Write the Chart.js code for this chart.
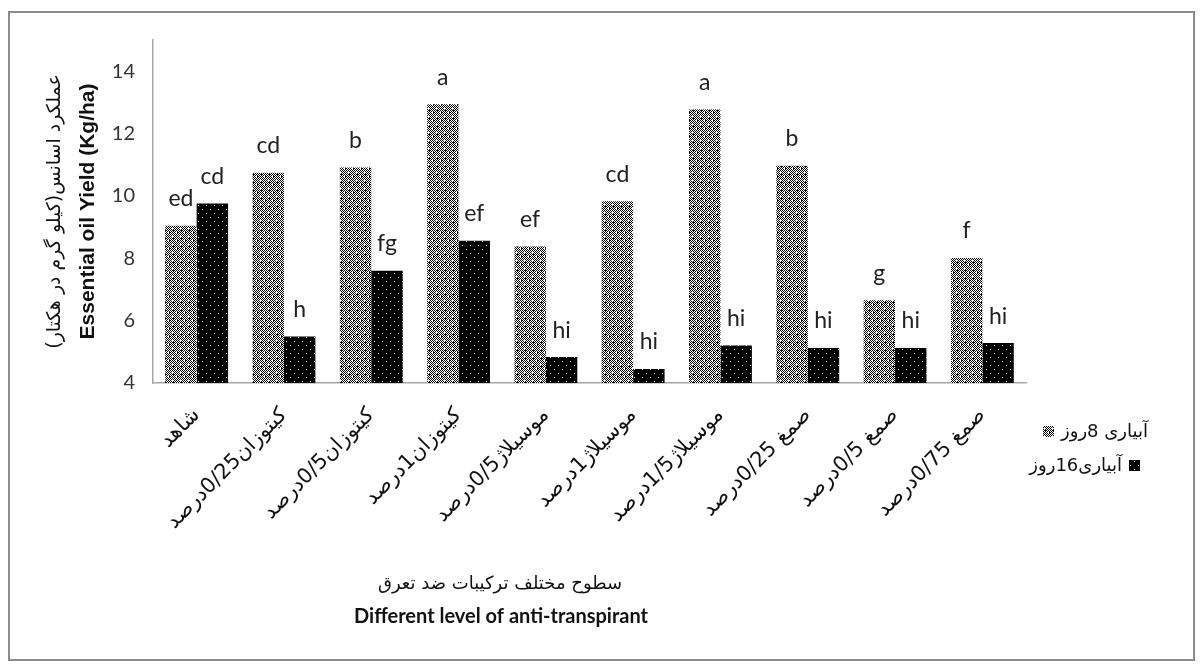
<!DOCTYPE html>
<html>
<head>
<meta charset="utf-8">
<script src="https://cdn.jsdelivr.net/npm/chart.js@4/dist/chart.umd.min.js"></script>
<style>
html, body { margin: 0; padding: 0; background: #fff; }
#wrap { position: relative; width: 1203px; height: 672px; }
#frame { position: absolute; left: 8px; top: 11px; width: 1183px; height: 646px; border: 2px solid #8c8c8c; pointer-events: none; }
canvas { position: absolute; left: 0; top: 0; }
</style>
</head>
<body>
<div id="wrap">
    <canvas id="chart" width="1203" height="672"></canvas>
    <div id="frame"></div>
</div>
<script>
const categories = [
    'شاهد',
    'کیتوزان0/25درصد',
    'کیتوزان0/5درصد',
    'کیتوزان1درصد',
    'موسیلاژ0/5درصد',
    'موسیلاژ1درصد',
    'موسیلاژ1/5درصد',
    'صمغ 0/25درصد',
    'صمغ 0/5درصد',
    'صمغ 0/75درصد'
];
const seriesNames = ['آبیاری 8روز', 'آبیاری16روز'];
const irrigation8 = [9.04, 10.74, 10.91, 12.94, 8.38, 9.83, 12.77, 10.97, 6.65, 8.01];
const irrigation16 = [9.76, 5.49, 7.6, 8.56, 4.83, 4.45, 5.2, 5.12, 5.12, 5.28];
const letters8 = ['ed', 'cd', 'b', 'a', 'ef', 'cd', 'a', 'b', 'g', 'f'];
const letters16 = ['cd', 'h', 'fg', 'ef', 'hi', 'hi', 'hi', 'hi', 'hi', 'hi'];
const yTicks = [4, 6, 8, 10, 12, 14];
const yTitleFa = 'عملکرد اسانس(کیلو گرم در هکتار)';
const yTitleEn = 'Essential oil Yield (Kg/ha)';
const xTitleFa = 'سطوح مختلف ترکیبات ضد تعرق';
const xTitleEn = 'Different level of anti-transpirant';

// little bitmap fills like the excel pattern fills
function makePattern(kind) {
    const c = document.createElement('canvas');
    c.width = 8;
    c.height = 8;
    const g = c.getContext('2d');
    if (kind === 'light') {
        g.fillStyle = '#fff';
        g.fillRect(0, 0, 8, 8);
        g.fillStyle = '#000';
        for (let x = 0; x < 8; x++) {
            for (let y = 0; y < 8; y++) {
                if ((x + y) % 2 === 0) g.fillRect(x, y, 1, 1);
            }
        }
        g.fillRect(1, 0, 1, 1);
        g.fillRect(5, 6, 1, 1);
        g.fillStyle = '#fff';
        [[4, 3], [3, 4], [4, 4], [5, 4], [4, 5], [0, 0]].forEach(p => g.fillRect(p[0], p[1], 1, 1));
    } else {
        g.fillStyle = '#000';
        g.fillRect(0, 0, 8, 8);
        g.fillStyle = '#fff';
        g.fillRect(2, 1, 1, 1);
        g.fillRect(6, 5, 1, 1);
    }
    return c.getContext('2d').createPattern(c, 'repeat');
}

const fill8 = makePattern('light');
const fill16 = makePattern('dark');

const letterPlugin = {
    id: 'letters',
    afterDatasetsDraw: (chart) => {
        const { ctx } = chart;
        const sets = [letters8, letters16];
        ctx.save();
        ctx.font = '23px Lato';
        ctx.fillStyle = '#222';
        ctx.textAlign = 'center';
        ctx.textBaseline = 'middle';
        sets.forEach((letters, d) => {
            chart.getDatasetMeta(d).data.forEach((bar, i) => {
                ctx.fillText(letters[i], bar.x, bar.y - 27);
            });
        });
        ctx.restore();
    }
};

const titlePlugin = {
    id: 'titles',
    afterDraw: (chart) => {
        const { ctx } = chart;
        const mid = (chart.chartArea.top + chart.chartArea.bottom) / 2;
        ctx.save();
        ctx.fillStyle = '#111';
        ctx.textAlign = 'center';
        ctx.textBaseline = 'middle';

        ctx.save();
        ctx.translate(55, mid);
        ctx.rotate(-Math.PI / 2);
        ctx.font = '19px "DejaVu Sans"';
        ctx.fillText(yTitleFa, 0, 0);
        ctx.restore();

        ctx.save();
        ctx.translate(88, mid);
        ctx.rotate(-Math.PI / 2);
        ctx.font = 'bold 21px "Liberation Sans"';
        ctx.fillText(yTitleEn, 0, 0);
        ctx.restore();

        ctx.font = '18px "DejaVu Sans"';
        ctx.fillText(xTitleFa, 500, 584);
        ctx.font = 'bold 20px Lato';
        ctx.fillText(xTitleEn, 501, 617);

        // legend, laid out as in the original
        ctx.font = '18px "DejaVu Sans"';
        ctx.fillStyle = fill8;
        ctx.fillRect(1043, 426, 11, 11);
        ctx.fillStyle = '#111';
        ctx.textAlign = 'left';
        ctx.fillText(seriesNames[0], 1061, 432);
        ctx.textAlign = 'right';
        ctx.fillText(seriesNames[1], 1122, 466);
        ctx.fillStyle = fill16;
        ctx.fillRect(1129, 460, 11, 11);
        ctx.restore();
    }
};

new Chart(document.getElementById('chart'), {
    type: 'bar',
    data: {
        labels: categories,
        datasets: [
            { label: seriesNames[0], data: irrigation8, backgroundColor: fill8, base: 4 },
            { label: seriesNames[1], data: irrigation16, backgroundColor: fill16, base: 4 }
        ]
    },
    options: {
        responsive: false,
        animation: false,
        devicePixelRatio: 1,
        categoryPercentage: 0.72,
        barPercentage: 1.0,
        layout: {
            padding: { top: 40, left: 103, right: 177, bottom: 119 }
        },
        plugins: {
            legend: { display: false },
            tooltip: { enabled: false }
        },
        scales: {
            x: {
                afterFit: (s) => { s.height = 170; },
                grid: { display: false, drawTicks: false },
                border: { color: '#a6a6a6', width: 1.5 },
                ticks: {
                    maxRotation: 45,
                    minRotation: 45,
                    padding: 20,
                    color: '#111',
                    font: { family: '"DejaVu Sans"', size: 21 }
                }
            },
            y: {
                min: 4,
                max: 15,
                afterFit: (s) => { s.width = 50; },
                afterBuildTicks: (s) => { s.ticks = yTicks.map(v => ({ value: v })); },
                grid: { display: false, drawTicks: false },
                border: { color: '#a6a6a6', width: 1.5 },
                ticks: {
                    padding: 18,
                    color: '#333',
                    font: { family: 'Lato', size: 20 }
                }
            }
        }
    },
    plugins: [letterPlugin, titlePlugin]
});
</script>
</body>
</html>
